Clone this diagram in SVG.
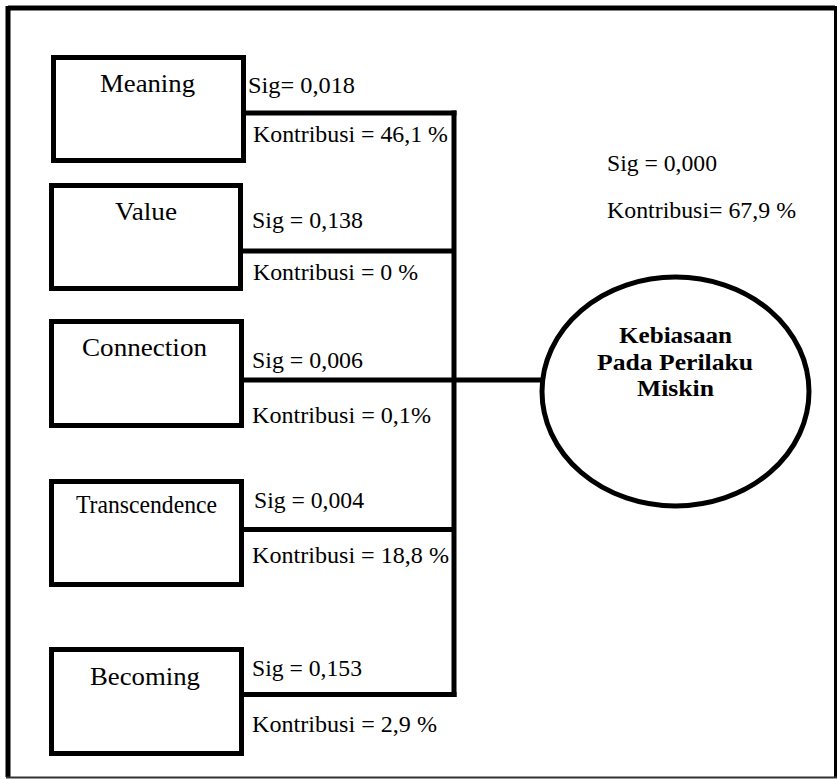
<svg xmlns="http://www.w3.org/2000/svg" width="838" height="779" viewBox="0 0 838 779">
<style>
.box{fill:#fff;stroke:#000;stroke-width:5}
.conn{fill:none;stroke:#000;stroke-width:5}
.lbl{font-family:"Liberation Serif","Times New Roman",serif;font-size:24px;fill:#000}
.nd{font-family:"Liberation Serif","Times New Roman",serif;font-size:26px;fill:#000}
.bd{font-family:"Liberation Serif","Times New Roman",serif;font-size:23px;font-weight:bold;fill:#000}
</style>
<rect width="838" height="779" fill="#fff"/>
<g id="frame">
<path d="M8 8 H835" stroke="#000" stroke-width="5" fill="none"/>
<path d="M8 6 V777" stroke="#000" stroke-width="5" fill="none"/>
<path d="M835.5 6 V778" stroke="#000" stroke-width="3" fill="none"/>
<path d="M6 777.5 H837" stroke="#333" stroke-width="2" fill="none"/>
</g>
<g id="connectors">
<path class="conn" d="M454 110.5 V697"/>
<path class="conn" d="M244 113 H456.5"/>
<path class="conn" d="M241 251 H454"/>
<path class="conn" d="M242 380 H542"/>
<path class="conn" d="M242 529.5 H454"/>
<path class="conn" d="M242 694.5 H456.5"/>
</g>
<g id="meaning">
<rect class="box" x="53.5" y="57.5" width="190" height="103"/>
<text class="nd" x="100" y="92" textLength="95" lengthAdjust="spacingAndGlyphs">Meaning</text>
</g>
<g id="value">
<rect class="box" x="51.5" y="185.5" width="189" height="103"/>
<text class="nd" x="115" y="220" textLength="62" lengthAdjust="spacingAndGlyphs">Value</text>
</g>
<g id="connection">
<rect class="box" x="51.5" y="321.5" width="190" height="104"/>
<text class="nd" x="82" y="356" font-size="27" textLength="125" lengthAdjust="spacingAndGlyphs">Connection</text>
</g>
<g id="transcendence">
<rect class="box" x="51.5" y="481.5" width="190" height="103"/>
<text class="nd" x="76" y="513" font-size="23.5" textLength="141" lengthAdjust="spacingAndGlyphs">Transcendence</text>
</g>
<g id="becoming">
<rect class="box" x="51.5" y="649.5" width="190" height="104"/>
<text class="nd" x="90" y="685" font-size="27" textLength="110" lengthAdjust="spacingAndGlyphs">Becoming</text>
</g>
<g id="kebiasaan">
<ellipse cx="675.5" cy="391.5" rx="133.5" ry="114.5" fill="#fff" stroke="#000" stroke-width="5"/>
<text class="bd" x="619" y="343" textLength="113" lengthAdjust="spacingAndGlyphs">Kebiasaan</text>
<text class="bd" x="597" y="370" textLength="156" lengthAdjust="spacingAndGlyphs">Pada Perilaku</text>
<text class="bd" x="637" y="396" textLength="77" lengthAdjust="spacingAndGlyphs">Miskin</text>
</g>
<g id="labels">
<text class="lbl" x="248" y="93" textLength="107" lengthAdjust="spacingAndGlyphs">Sig= 0,018</text>
<text class="lbl" x="253" y="142" textLength="195" lengthAdjust="spacingAndGlyphs">Kontribusi = 46,1 %</text>
<text class="lbl" x="252" y="228" textLength="111" lengthAdjust="spacingAndGlyphs">Sig = 0,138</text>
<text class="lbl" x="253" y="280" textLength="165" lengthAdjust="spacingAndGlyphs">Kontribusi = 0 %</text>
<text class="lbl" x="252" y="368" textLength="111" lengthAdjust="spacingAndGlyphs">Sig = 0,006</text>
<text class="lbl" x="252" y="423" textLength="179" lengthAdjust="spacingAndGlyphs">Kontribusi = 0,1%</text>
<text class="lbl" x="254" y="508" textLength="110" lengthAdjust="spacingAndGlyphs">Sig = 0,004</text>
<text class="lbl" x="252" y="563" textLength="197" lengthAdjust="spacingAndGlyphs">Kontribusi = 18,8 %</text>
<text class="lbl" x="252" y="676" textLength="110" lengthAdjust="spacingAndGlyphs">Sig = 0,153</text>
<text class="lbl" x="252" y="732" textLength="185" lengthAdjust="spacingAndGlyphs">Kontribusi = 2,9 %</text>
<text class="lbl" x="607" y="171" textLength="110" lengthAdjust="spacingAndGlyphs">Sig = 0,000</text>
<text class="lbl" x="607" y="218" textLength="189" lengthAdjust="spacingAndGlyphs">Kontribusi= 67,9 %</text>
</g>
</svg>
